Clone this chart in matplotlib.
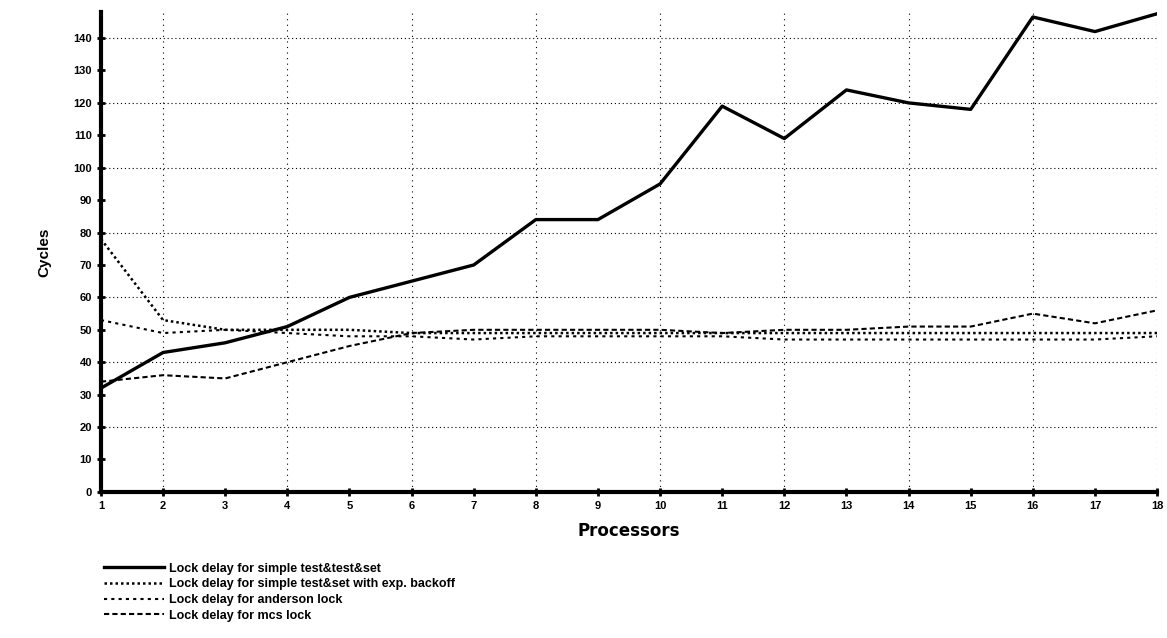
import numpy as np
from matplotlib import pyplot as plt

plt.rcParams['font.family'] = ['Liberation Sans', 'DejaVu Sans']
plt.rcParams['font.weight'] = 'bold'

processors = list(range(1, 19))
tts = [32, 43, 46, 51, 60, 65, 70, 84, 84, 95, 119, 109, 124, 120, 118, 146.5, 142, 147.5]
tts_backoff = [78, 53, 50, 50, 50, 49, 49, 49, 49, 49, 49, 49, 49, 49, 49, 49, 49, 49]
anderson = [53, 49, 50, 49, 48, 48, 47, 48, 48, 48, 48, 47, 47, 47, 47, 47, 47, 48]
mcs = [34, 36, 35, 40, 45, 49, 50, 50, 50, 50, 49, 50, 50, 51, 51, 55, 52, 56]

labels = ["Lock delay for simple test&test&set",
          "Lock delay for simple test&set with exp. backoff",
          "Lock delay for anderson lock",
          "Lock delay for mcs lock"]

fig = plt.figure(figsize=(11.67, 6.38), dpi=100)
ax = fig.add_axes([0.0865, 0.229, 0.905, 0.752])

ax.plot(processors, tts, color='black', lw=2.4, label=labels[0])
ax.plot(processors, tts_backoff, color='black', lw=1.8, ls=(0, (1, 1.2)), label=labels[1])
ax.plot(processors, anderson, color='black', lw=1.5, ls=(0, (1.5, 2)), label=labels[2])
ax.plot(processors, mcs, color='black', lw=1.5, ls=(0, (2.5, 1.5)), label=labels[3])

ax.set_xlim(1, 18)
ax.set_ylim(0, 148)
ax.set_xticks(processors)
ax.set_yticks(np.arange(0, 141, 10))
for x in range(2, 19, 2):
    ax.axvline(x, color='black', lw=0.8, ls=(0, (1, 4)), zorder=0)
for y in range(20, 141, 20):
    ax.axhline(y, color='black', lw=0.8, ls=(0, (1, 2.5)), zorder=0)

for s in ['top', 'right']:
    ax.spines[s].set_visible(False)
ax.spines['left'].set_linewidth(3)
ax.spines['bottom'].set_linewidth(3)
ax.tick_params(direction='inout', length=6, width=2, labelsize=8)

ax.set_xlabel('Processors', fontsize=12, fontweight='bold', labelpad=8,
              family=['DejaVu Sans'])
ax.set_ylabel('Cycles', fontsize=11, fontweight='bold', labelpad=16)

fig.legend(loc='upper left', bbox_to_anchor=(0.084, 0.128), frameon=False,
           fontsize=9, labelspacing=0.3, handlelength=4.8, handletextpad=0.4,
           borderpad=0)

fig.savefig('out.png', dpi=100)
